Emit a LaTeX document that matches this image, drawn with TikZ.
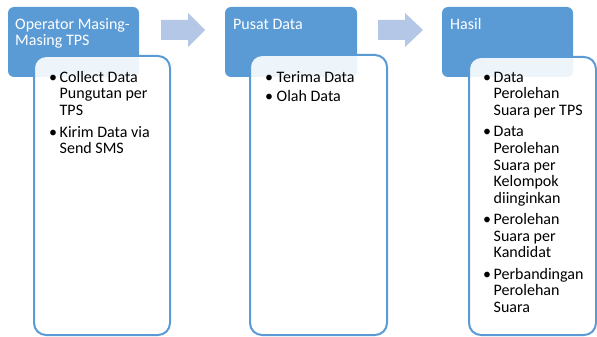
\documentclass[tikz,border=0pt]{standalone}
\usepackage{fontspec}
\setmainfont{Carlito}
\definecolor{hdrblue}{RGB}{91,155,213}
\definecolor{arrowblue}{RGB}{180,199,231}
\tikzset{
  header/.style={draw=none, fill=hdrblue, rounded corners=6pt, inner sep=0pt},
  panel/.style={draw=hdrblue, line width=2pt, fill=white, fill opacity=0.9,
    rounded corners=12pt, inner sep=0pt},
  hdrtext/.style={anchor=base west, inner sep=0pt, text=white,
    font=\fontsize{16}{16}\selectfont},
  listtext/.style={anchor=base west, inner sep=0pt, text=black,
    font=\fontsize{16}{16.7}\selectfont},
  flowarrow/.style={fill=arrowblue, draw=none}
}
\newcommand{\bul}{\textbullet}
\begin{document}
\begin{tikzpicture}[x=1pt, y=-1pt]
\useasboundingbox (0,0) rectangle (597,337);

% header blocks
\node[header, minimum width=131pt, minimum height=70pt] (h1) at (73.5,42) {};
\node[header, minimum width=132pt, minimum height=70pt] (h2) at (291,42) {};
\node[header, minimum width=131pt, minimum height=70pt] (h3) at (507.5,42) {};

% flow arrows
\fill[flowarrow] (161,20) -- (188,20) -- (188,13) -- (205,30) -- (188,47) -- (188,40) -- (161,40) -- cycle;
\fill[flowarrow] (378,20) -- (405,20) -- (405,13) -- (423,30) -- (405,47) -- (405,40) -- (378,40) -- cycle;

% detail panels
\node[panel, minimum width=136pt, minimum height=279pt] (p1) at (102,195.5) {};
\node[panel, minimum width=137pt, minimum height=280pt] (p2) at (318.5,195) {};
\node[panel, minimum width=127pt, minimum height=278pt] (p3) at (532.5,196) {};

% header titles
\node[hdrtext] (t1) at (15,30) {\begin{tabular}[t]{@{}l@{}}Operator Masing-\\Masing TPS\end{tabular}};
\node[hdrtext] (t2) at (233,30) {\begin{tabular}[t]{@{}l@{}}Pusat Data\end{tabular}};
\node[hdrtext] (t3) at (450,30) {\begin{tabular}[t]{@{}l@{}}Hasil\end{tabular}};

% bullet lists
\node[listtext] (l1) at (49,82) {\begin{tabular}[t]{@{}p{10.5pt}@{}l@{}}
\bul & Collect Data\\
 & Pungutan per\\
 & TPS\\[5pt]
\bul & Kirim Data via\\
 & Send SMS
\end{tabular}};
\node[listtext] (l2) at (265,82) {\begin{tabular}[t]{@{}p{11.5pt}@{}l@{}}
\bul & Terima Data\\[3pt]
\bul & Olah Data
\end{tabular}};
\node[listtext] (l3) at (483,82) {\begin{tabular}[t]{@{}p{10.5pt}@{}l@{}}
\bul & Data\\
 & Perolehan\\
 & Suara per TPS\\[4.5pt]
\bul & Data\\
 & Perolehan\\
 & Suara per\\
 & Kelompok\\
 & diinginkan\\[4.5pt]
\bul & Perolehan\\
 & Suara per\\
 & Kandidat\\[4.5pt]
\bul & Perbandingan\\
 & Perolehan\\
 & Suara
\end{tabular}};
\end{tikzpicture}
\end{document}
